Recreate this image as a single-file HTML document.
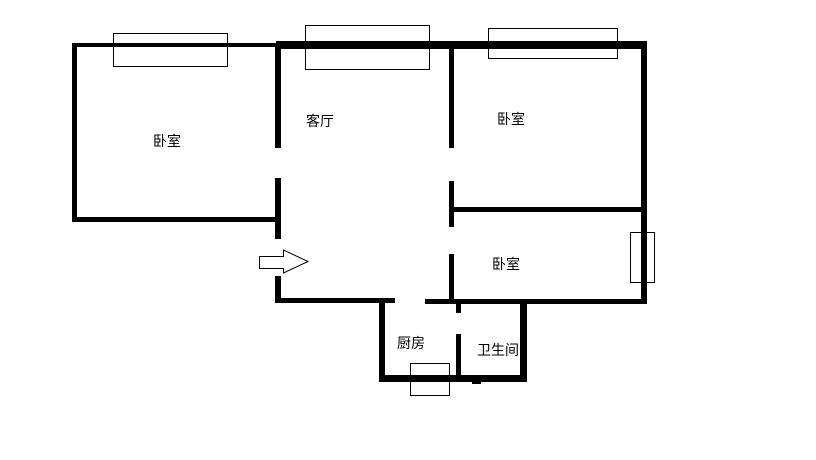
<!DOCTYPE html>
<html><head><meta charset="utf-8"><style>
html,body{margin:0;padding:0;background:#fff;}
svg{display:block}
text{font-family:"Liberation Sans","Noto Sans CJK SC","WenQuanYi Zen Hei",sans-serif;font-size:14px;fill:#000}
</style></head><body>
<svg width="816" height="460" viewBox="0 0 816 460" xmlns="http://www.w3.org/2000/svg">
<rect width="816" height="460" fill="#fff"/>
<g fill="#000">
<!-- left bedroom -->
<rect x="72" y="43" width="206" height="4"/>
<rect x="72" y="43" width="5" height="179"/>
<rect x="72" y="217" width="206" height="5"/>
<!-- top thick wall -->
<rect x="276" y="41" width="371" height="8"/>
<!-- living left wall -->
<rect x="275" y="45" width="6" height="103"/>
<rect x="275" y="178" width="6" height="61"/>
<rect x="275" y="276" width="6" height="27"/>
<rect x="277" y="298" width="118" height="5"/>
<!-- middle wall -->
<rect x="449" y="45" width="5" height="103"/>
<rect x="449" y="181" width="5" height="46"/>
<rect x="449" y="254" width="5" height="49"/>
<!-- right wall -->
<rect x="641" y="41" width="6" height="263"/>
<rect x="453" y="207" width="192" height="5"/>
<rect x="425" y="299" width="222" height="5"/>
<!-- kitchen/bath -->
<rect x="379" y="299" width="6" height="83"/>
<rect x="379" y="375" width="148" height="7"/>
<rect x="520" y="299" width="7" height="83"/>
<rect x="456" y="303" width="5" height="10"/>
<rect x="456" y="334" width="5" height="42"/>
<rect x="472" y="381" width="9" height="3"/>
</g>
<g fill="none" stroke="#000" stroke-width="1">
<rect x="113.5" y="33.5" width="114" height="33"/>
<rect x="305.5" y="25.5" width="124" height="44"/>
<rect x="488.5" y="28.5" width="129" height="30"/>
<rect x="630.5" y="232.5" width="24" height="50"/>
<rect x="410.5" y="363.5" width="39" height="32"/>
<path d="M259.5 256.5 H283.5 V250 L308 261.5 L283.5 273 V268.5 H259.5 Z" fill="#fff"/>
</g>
<text x="153" y="146">卧室</text>
<text x="306" y="126">客厅</text>
<text x="497" y="124">卧室</text>
<text x="492" y="269">卧室</text>
<text x="397" y="348">厨房</text>
<text x="477" y="355">卫生间</text>
</svg>
</body></html>
